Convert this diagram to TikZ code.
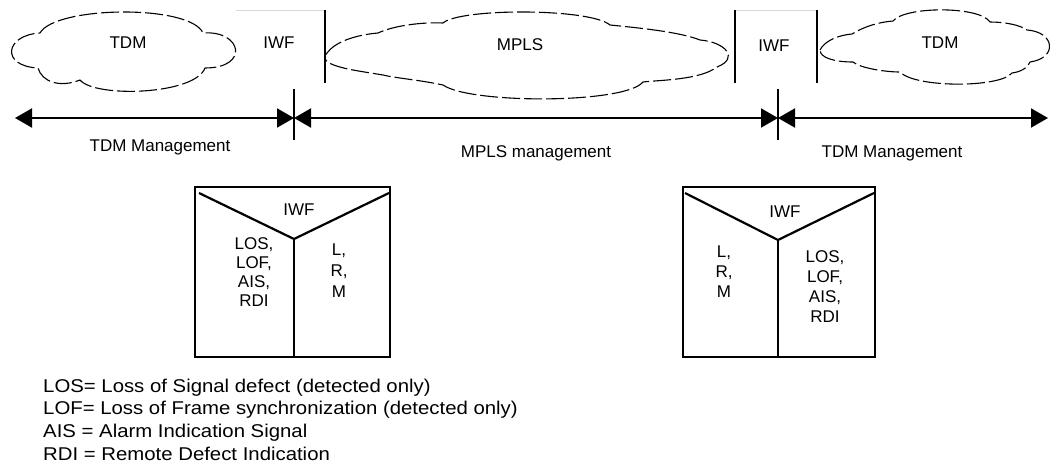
\documentclass[tikz,border=0pt]{standalone}
\usepackage{fontspec}
\setmainfont{Liberation Sans}
\newfontfamily\legendfont{Liberation Sans}[FakeStretch=1.1]
\usetikzlibrary{arrows.meta}

\tikzset{
  net/.style={line width=1.1pt, dash pattern=on 18pt off 4pt, line join=round},
  txt/.style={inner sep=0pt, font=\fontsize{17}{19}\selectfont},
  stack/.style={txt, align=center, anchor=north, font=\fontsize{17}{#1}\selectfont},
  legend/.style={inner sep=0pt, anchor=base west, font=\legendfont\fontsize{18.5}{22}\selectfont},
  span/.style={line width=2pt, {Triangle[length=17pt,width=19pt]}-{Triangle[length=17pt,width=19pt]}},
  tick/.style={line width=2pt},
  wall/.style={line width=1.6pt},
  roof/.style={line width=0.9pt, gray!30},
  frame/.style={draw, line width=1.4pt, inner sep=0pt},
  vee/.style={line width=2.2pt, line join=miter},
  split/.style={line width=1.4pt}
}

\begin{document}
\begin{tikzpicture}[x=1pt, y=-1pt]
\useasboundingbox (0,0) rectangle (1050,466);

% ---- networks along the path (dashed clouds) ----
% left TDM network
\draw[net] (40,33) .. controls (55,6) and (190,4) .. (203,33)
  .. controls (242,30) and (250,68) .. (205,68)
  .. controls (195,95) and (95,98) .. (80,80)
  .. controls (60,88) and (42,82) .. (38,68)
  .. controls (0,66) and (5,35) .. (40,33) -- cycle;
% MPLS network
\draw[net] (327,53) .. controls (335,42) and (355,35) .. (378,33)
  .. controls (395,25) and (425,22) .. (443,23)
  .. controls (460,8) and (590,8) .. (610,25)
  .. controls (640,28) and (680,32) .. (700,40)
  .. controls (725,42) and (740,58) .. (717,67)
  .. controls (700,80) and (660,80) .. (643,82)
  .. controls (625,104) and (470,104) .. (443,85)
  .. controls (420,80) and (395,78) .. (383,75)
  .. controls (365,72) and (350,70) .. (340,67)
  .. controls (325,63) and (322,58) .. (327,53) -- cycle;
% right TDM network
\draw[net] (820,50) .. controls (825,40) and (840,35) .. (852,34)
  .. controls (865,26) and (880,22) .. (893,21)
  .. controls (905,6) and (980,6) .. (990,22)
  .. controls (1005,22) and (1020,25) .. (1027,30)
  .. controls (1055,32) and (1058,58) .. (1030,62)
  .. controls (1028,68) and (1020,72) .. (1012,73)
  .. controls (1000,88) and (915,88) .. (900,72)
  .. controls (885,72) and (860,68) .. (853,62)
  .. controls (835,62) and (820,58) .. (820,50) -- cycle;

\node[txt, anchor=base] (tdmLt) at (128,48) {TDM};
\node[txt, anchor=base] (mplst) at (520,50) {MPLS};
\node[txt, anchor=base] (tdmRt) at (940,48) {TDM};

% ---- interworking functions ----
\coordinate (iwA1) at (236,10);
\coordinate (iwA2) at (325,10);
\coordinate (iwA3) at (325,83);
\draw[roof] (iwA1) -- (iwA2);
\draw[wall] (iwA2) -- (iwA3);
\node[txt, anchor=base] (iwAt) at (279,48) {IWF};

\coordinate (iwB1) at (735,10);
\coordinate (iwB2) at (817,10);
\coordinate (iwB3) at (735,83);
\coordinate (iwB4) at (817,83);
\draw[roof] (iwB1) -- (iwB2);
\draw[wall] (iwB1) -- (iwB3);
\draw[wall] (iwB2) -- (iwB4);
\node[txt, anchor=base] (iwBt) at (774,51) {IWF};

% ---- management domains ----
\coordinate (t1top) at (294,89);
\coordinate (t1bot) at (294,140);
\coordinate (t2top) at (778,89);
\coordinate (t2bot) at (778,140);
\draw[tick] (t1top) -- (t1bot);
\draw[tick] (t2top) -- (t2bot);

\coordinate (aL) at (15,118);
\coordinate (a1) at (294,118);
\coordinate (a2) at (778,118);
\coordinate (aR) at (1048,118);
\draw[span] (aL) -- (a1);
\draw[span] (a1) -- (a2);
\draw[span] (a2) -- (aR);

\node[txt, anchor=base] (mgL) at (160,151) {TDM Management};
\node[txt, anchor=base] (mgM) at (536,157) {MPLS management};
\node[txt, anchor=base] (mgR) at (892,157) {TDM Management};

% ---- left IWF defect map ----
\node[frame, minimum width=195pt, minimum height=170pt] (boxA) at (292.5,272) {};
\coordinate (vA1) at (199,193);
\coordinate (vA2) at (294,239);
\coordinate (vA3) at (389,193);
\draw[vee] (vA1) -- (vA2) -- (vA3);
\draw[split] (vA2) -- (boxA.south -| vA2);
\node[txt, anchor=base] (boxAt) at (299,215) {IWF};
\node[stack=19] (boxAl) at (254,237.8) {LOS,\\LOF,\\AIS,\\RDI};
\node[stack=21] (boxAr) at (339,243.8) {L,\\R,\\M};

% ---- right IWF defect map ----
\node[frame, minimum width=192pt, minimum height=170pt] (boxB) at (779,272) {};
\coordinate (vB1) at (685,193);
\coordinate (vB2) at (778,240);
\coordinate (vB3) at (874,193);
\draw[vee] (vB1) -- (vB2) -- (vB3);
\draw[split] (vB2) -- (boxB.south -| vB2);
\node[txt, anchor=base] (boxBt) at (785,217) {IWF};
\node[stack=20] (boxBl) at (724,245.8) {L,\\R,\\M};
\node[stack=20] (boxBr) at (825,250.8) {LOS,\\LOF,\\AIS,\\RDI};

% ---- legend ----
\node[legend] (lg1) at (43,392) {LOS= Loss of Signal defect (detected only)};
\node[legend] (lg2) at (43,414.7) {LOF= Loss of Frame synchronization (detected only)};
\node[legend] (lg3) at (43,437.3) {AIS = Alarm Indication Signal};
\node[legend] (lg4) at (43,460) {RDI = Remote Defect Indication};
\end{tikzpicture}
\end{document}
